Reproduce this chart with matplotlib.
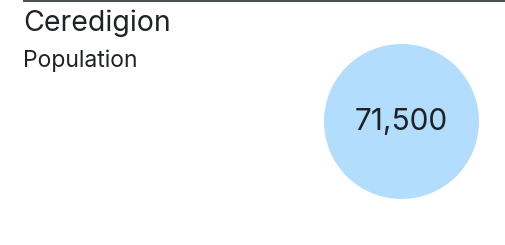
import numpy as np
import matplotlib.pyplot as plt
from matplotlib.patches import Circle

plt.rcParams['font.family'] = ['Inter', 'DejaVu Sans']

title = 'Ceredigion'
subtitle = 'Population'
value = 71500

W, H = 506, 245
fig = plt.figure(figsize=(W / 100, H / 100), dpi=100)
ax = fig.add_axes([0, 0, 1, 1])
ax.set_xlim(0, W)
ax.set_ylim(H, 0)
ax.axis('off')

# top rule
ax.plot([23, W], [1.5, 1.5], color='#2a2e33', lw=1.2, solid_capstyle='butt')

ax.text(23, 31, title, fontsize=20.5, color='#1f2328', va='baseline', ha='left')
ax.text(23.5, 66.5, subtitle, fontsize=16.5, color='#1f2328', va='baseline', ha='left')

# circle area scaled to value
r = np.sqrt(value) * 77.5 / np.sqrt(71500)
ax.add_patch(Circle((401.5, 121.5), r, color='#b2ddfd', lw=0))
ax.text(401.5, 130, f'{value:,}', fontsize=21.5, color='#1f2328', va='baseline', ha='center')

fig.savefig('out.png', dpi=100)
